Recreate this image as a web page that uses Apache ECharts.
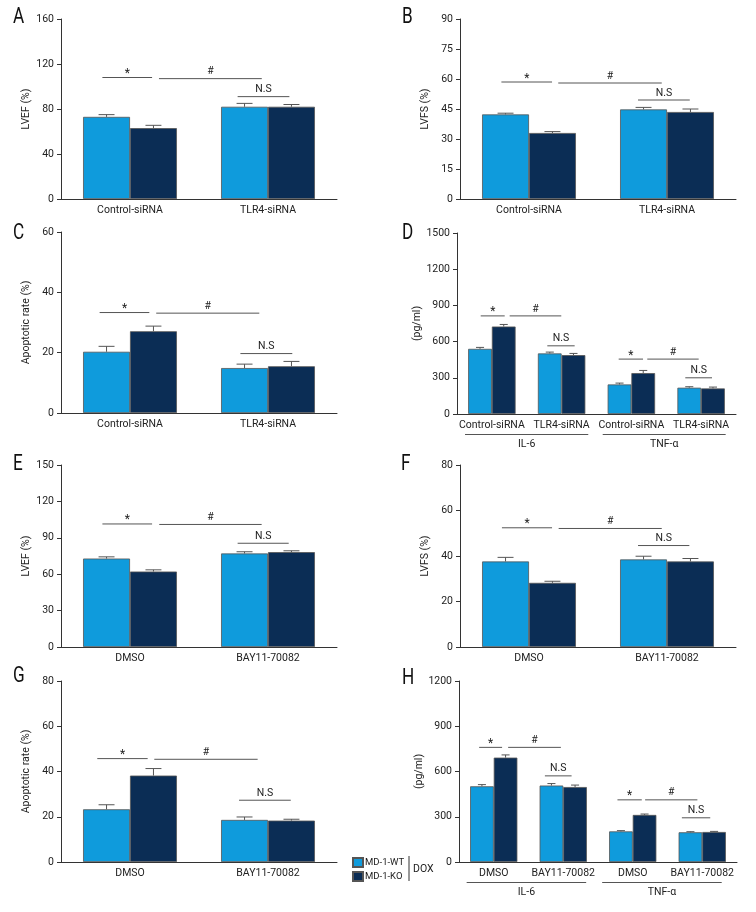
<!DOCTYPE html>
<html><head><meta charset="utf-8">
<script src="https://cdn.jsdelivr.net/npm/echarts@6/dist/echarts.min.js"></script>
<style>html,body{margin:0;padding:0;background:#fff}#c{width:756px;height:912px}</style>
</head><body><div id="c"></div>
<script>
const FONT = 'Roboto, "Liberation Sans", sans-serif';
const FS = 10.5;

// ---------- DATA ----------
const seriesNames = ['MD-1-WT', 'MD-1-KO'];

// Panel A
const aCategories = ['Control-siRNA', 'TLR4-siRNA'];
const aWT = [73, 82];
const aKO = [63, 82];
const aWTErr = [2, 3];
const aKOErr = [2.5, 2];
const aYTicks = [0, 40, 80, 120, 160];
const aAnnot = [[-0.2, 0.16, 108, '*'], [0.21, 0.955, 107, '#'], [0.78, 1.155, 91, 'N.S']];

// Panel B
const bCategories = ['Control-siRNA', 'TLR4-siRNA'];
const bWT = [42.3, 44.8];
const bKO = [33, 43.5];
const bWTErr = [0.6, 1.0];
const bKOErr = [0.7, 1.5];
const bYTicks = [0, 15, 30, 45, 60, 75, 90];
const bAnnot = [[-0.2, 0.167, 58.5, '*'], [0.212, 0.962, 58, '#'], [0.79, 1.165, 49.5, 'N.S']];

// Panel C
const cCategories = ['Control-siRNA', 'TLR4-siRNA'];
const cWT = [20.3, 14.9];
const cKO = [27.1, 15.5];
const cWTErr = [1.8, 1.3];
const cKOErr = [1.7, 1.6];
const cYTicks = [0, 20, 40, 60];
const cAnnot = [[-0.22, 0.14, 33.3, '*'], [0.19, 0.937, 33.1, '#'], [0.8, 1.176, 19.7, 'N.S']];

// Panel D
const dCategories = ['Control-siRNA', 'TLR4-siRNA', 'Control-siRNA', 'TLR4-siRNA'];
const dWT = [540, 502, 245, 218];
const dKO = [725, 488, 339, 212];
const dWTErr = [12, 11, 11, 8];
const dKOErr = [17, 14, 22, 11];
const dYTicks = [0, 300, 600, 900, 1200, 1500];
const dAnnot = [[-0.16, 0.184, 813, '*'], [0.255, 0.995, 813, '#'], [0.795, 1.187, 565, 'N.S'],
                [1.818, 2.167, 455, '*'], [2.228, 2.965, 455, '#'], [2.773, 3.156, 300, 'N.S']];
const dGroups = [[-0.385, 1.382, 'IL-6'], [1.589, 3.352, 'TNF-α']];

// Panel E
const eCategories = ['DMSO', 'BAY11-70082'];
const eWT = [72.9, 77.1];
const eKO = [62.2, 78.2];
const eWTErr = [1.4, 1.4];
const eKOErr = [1.4, 1.1];
const eYTicks = [0, 30, 60, 90, 120, 150];
const eAnnot = [[-0.2, 0.16, 101.4, '*'], [0.212, 0.954, 101, '#'], [0.78, 1.15, 85.5, 'N.S']];

// Panel F
const fCategories = ['DMSO', 'BAY11-70082'];
const fWT = [37.6, 38.5];
const fKO = [28.2, 37.6];
const fWTErr = [1.8, 1.4];
const fKOErr = [0.7, 1.3];
const fYTicks = [0, 20, 40, 60, 80];
const fAnnot = [[-0.196, 0.167, 52.4, '*'], [0.215, 0.962, 52.1, '#'], [0.79, 1.162, 44.6, 'N.S']];

// Panel G
const gCategories = ['DMSO', 'BAY11-70082'];
const gWT = [23.3, 18.6];
const gKO = [38.2, 18.3];
const gWTErr = [2.0, 1.3];
const gKOErr = [3.1, 0.6];
const gYTicks = [0, 20, 40, 60, 80];
const gAnnot = [[-0.237, 0.128, 45.7, '*'], [0.176, 0.925, 45.4, '#'], [0.79, 1.165, 27.3, 'N.S']];

// Panel H
const hCategories = ['DMSO', 'BAY11-70082', 'DMSO', 'BAY11-70082'];
const hWT = [502, 507, 203, 197];
const hKO = [692, 497, 312, 199];
const hWTErr = [11, 13, 5, 4];
const hKOErr = [18, 13, 6, 4];
const hYTicks = [0, 300, 600, 900, 1200];
const hAnnot = [[-0.21, 0.12, 760, '*'], [0.207, 0.966, 760, '#'], [0.736, 1.12, 571, 'N.S'],
                [1.78, 2.13, 412, '*'], [2.178, 2.93, 412, '#'], [2.707, 3.115, 293, 'N.S']];
const hGroups = [[-0.39, 1.33, 'IL-6'], [1.56, 3.28, 'TNF-α']];

// ---------- LAYOUT ----------
const panels = [
  {letter:'A', lx:13, ly:18, grid:{left:61, top:19, width:276, height:180}, name:'LVEF (%)', gap:29,
   cats:aCategories, wt:aWT, ko:aKO, wtErr:aWTErr, koErr:aKOErr, ticks:aYTicks, annot:aAnnot},
  {letter:'B', lx:402, ly:18, grid:{left:460, top:19, width:276, height:180}, name:'LVFS (%)', gap:29,
   cats:bCategories, wt:bWT, ko:bKO, wtErr:bWTErr, koErr:bKOErr, ticks:bYTicks, annot:bAnnot},
  {letter:'C', lx:13, ly:234, grid:{left:61, top:232, width:276, height:181}, name:'Apoptotic rate (%)', gap:29,
   cats:cCategories, wt:cWT, ko:cKO, wtErr:cWTErr, koErr:cKOErr, ticks:cYTicks, annot:cAnnot},
  {letter:'D', lx:402, ly:234, grid:{left:457, top:233, width:279, height:181}, name:'(pg/ml)', gap:26,
   cats:dCategories, wt:dWT, ko:dKO, wtErr:dWTErr, koErr:dKOErr, ticks:dYTicks, annot:dAnnot, groups:dGroups},
  {letter:'E', lx:13, ly:465, grid:{left:61, top:465, width:276, height:182}, name:'LVEF (%)', gap:29,
   cats:eCategories, wt:eWT, ko:eKO, wtErr:eWTErr, koErr:eKOErr, ticks:eYTicks, annot:eAnnot},
  {letter:'F', lx:401, ly:465, grid:{left:460, top:465, width:276, height:182}, name:'LVFS (%)', gap:29,
   cats:fCategories, wt:fWT, ko:fKO, wtErr:fWTErr, koErr:fKOErr, ticks:fYTicks, annot:fAnnot},
  {letter:'G', lx:13, ly:677, grid:{left:61, top:681, width:276, height:181}, name:'Apoptotic rate (%)', gap:29,
   cats:gCategories, wt:gWT, ko:gKO, wtErr:gWTErr, koErr:gKOErr, ticks:gYTicks, annot:gAnnot},
  {letter:'H', lx:402, ly:679, grid:{left:459, top:681, width:278, height:181}, name:'(pg/ml)', gap:26,
   cats:hCategories, wt:hWT, ko:hKO, wtErr:hWTErr, koErr:hKOErr, ticks:hYTicks, annot:hAnnot, groups:hGroups}
];

const WT_COLOR = '#0f9bdc';
const KO_COLOR = '#0b2d55';
const BAR_W = 0.34;
const AXIS_COLOR = '#333';
const TEXT_COLOR = '#222';

const grids = [], xAxes = [], yAxes = [], series = [], graphics = [];

panels.forEach((p, k) => {
  grids.push(Object.assign({outerBoundsMode:'none', containLabel:false}, p.grid));
  xAxes.push({
    type:'category', gridIndex:k, data:p.cats,
    axisLine:{onZero:false, lineStyle:{color:AXIS_COLOR, width:1}},
    axisTick:{show:false},
    axisLabel:{color:TEXT_COLOR, fontFamily:FONT, fontSize:FS, margin:6, interval:0}
  });
  xAxes.push({type:'value', gridIndex:k, show:false, min:-0.5, max:p.cats.length-0.5});
  const t = p.ticks;
  yAxes.push({
    type:'value', gridIndex:k, min:t[0], max:t[t.length-1], interval:t[1]-t[0],
    name:p.name, nameLocation:'middle', nameGap:p.gap, nameRotate:90,
    nameTextStyle:{color:TEXT_COLOR, fontFamily:FONT, fontSize:FS},
    axisLine:{show:true, onZero:false, lineStyle:{color:AXIS_COLOR, width:1}},
    axisTick:{show:true, length:4, lineStyle:{color:AXIS_COLOR}},
    axisLabel:{color:TEXT_COLOR, fontFamily:FONT, fontSize:FS, margin:7, formatter:v => String(v)},
    splitLine:{show:false}
  });
  const catAx = 2*k, valAx = 2*k+1;
  [[p.wt, p.wtErr, WT_COLOR, -1], [p.ko, p.koErr, KO_COLOR, 1]].forEach(([vals, errs, col, sgn], si) => {
    series.push({
      type:'bar', name:seriesNames[si], xAxisIndex:catAx, yAxisIndex:k, data:vals,
      barWidth:(BAR_W*100)+'%', barGap:'0%',
      itemStyle:{color:col, borderColor:'#555', borderWidth:0.8},
      silent:true, z:2
    });
    series.push({
      type:'custom', xAxisIndex:valAx, yAxisIndex:k, silent:true, z:3,
      data: vals.map((v, i) => [i + sgn*BAR_W/2, v, errs[i]]),
      renderItem:(params, api) => {
        const x = api.value(0), v = api.value(1), e = api.value(2);
        const p0 = api.coord([x, v]), p1 = api.coord([x, v+e]);
        const half = api.size([BAR_W, 0])[0] * 0.17;
        const st = {stroke:'#555', lineWidth:1};
        return {type:'group', children:[
          {type:'line', shape:{x1:p0[0], y1:p0[1], x2:p1[0], y2:p1[1]}, style:st},
          {type:'line', shape:{x1:p1[0]-half, y1:p1[1], x2:p1[0]+half, y2:p1[1]}, style:st}
        ]};
      }
    });
  });
  // significance annotations
  const ann = p.annot;
  series.push({
    type:'custom', xAxisIndex:valAx, yAxisIndex:k, silent:true, z:4, clip:false,
    data: ann.map(a => [a[0], a[1], a[2]]),
    renderItem:(params, api) => {
      const a = ann[params.dataIndex];
      const q1 = api.coord([api.value(0), api.value(2)]);
      const q2 = api.coord([api.value(1), api.value(2)]);
      const isStar = a[3] === '*';
      return {type:'group', children:[
        {type:'line', shape:{x1:q1[0], y1:q1[1], x2:q2[0], y2:q2[1]}, style:{stroke:'#555', lineWidth:1}},
        {type:'text', style:{text:a[3], x:(q1[0]+q2[0])/2, y:q1[1] + (isStar ? 2.5 : -1.5), align:'center', verticalAlign:'bottom',
          textAlign:'center', textVerticalAlign:'bottom', fill:TEXT_COLOR, fontFamily:FONT, fontSize:isStar ? 12 : FS}}
      ]};
    }
  });
  if (p.groups) {
    const grp = p.groups;
    series.push({
      type:'custom', xAxisIndex:valAx, yAxisIndex:k, silent:true, z:4, clip:false,
      data: grp.map(g => [g[0], g[1]]),
      renderItem:(params, api) => {
        const g = grp[params.dataIndex];
        const q1 = api.coord([api.value(0), t[0]]);
        const q2 = api.coord([api.value(1), t[0]]);
        const ly = q1[1] + 20.5;
        return {type:'group', children:[
          {type:'line', shape:{x1:q1[0], y1:ly, x2:q2[0], y2:ly}, style:{stroke:'#555', lineWidth:1}},
          {type:'text', style:{text:g[2], x:(q1[0]+q2[0])/2, y:ly+9.5, align:'center', verticalAlign:'middle',
            textAlign:'center', textVerticalAlign:'middle', fill:TEXT_COLOR, fontFamily:FONT, fontSize:FS}}
        ]};
      }
    });
  }
  graphics.push({type:'text', x:p.lx, y:p.ly - 12, scaleX:0.78,
    style:{text:p.letter, fill:'#111', fontFamily:FONT, fontSize:22}});
});

// DOX bracket next to legend
graphics.push({type:'line', shape:{x1:409, y1:856, x2:409, y2:881}, style:{stroke:'#333', lineWidth:1}});
graphics.push({type:'text', x:413, y:864, style:{text:'DOX', fill:TEXT_COLOR, fontFamily:FONT, fontSize:FS}});

const chart = echarts.init(document.getElementById('c'), null, {renderer:'canvas'});
chart.setOption({
  backgroundColor:'#fff',
  animation:false,
  grid:grids, xAxis:xAxes, yAxis:yAxes, series:series,
  legend:{
    data:seriesNames, orient:'vertical', left:352, top:857,
    itemWidth:10, itemHeight:9, itemGap:3, icon:'rect',
    textStyle:{color:TEXT_COLOR, fontFamily:FONT, fontSize:9.5, padding:[0,0,0,-3]},
    padding:0, selectedMode:false
  },
  graphic:graphics
});
</script></body></html>
